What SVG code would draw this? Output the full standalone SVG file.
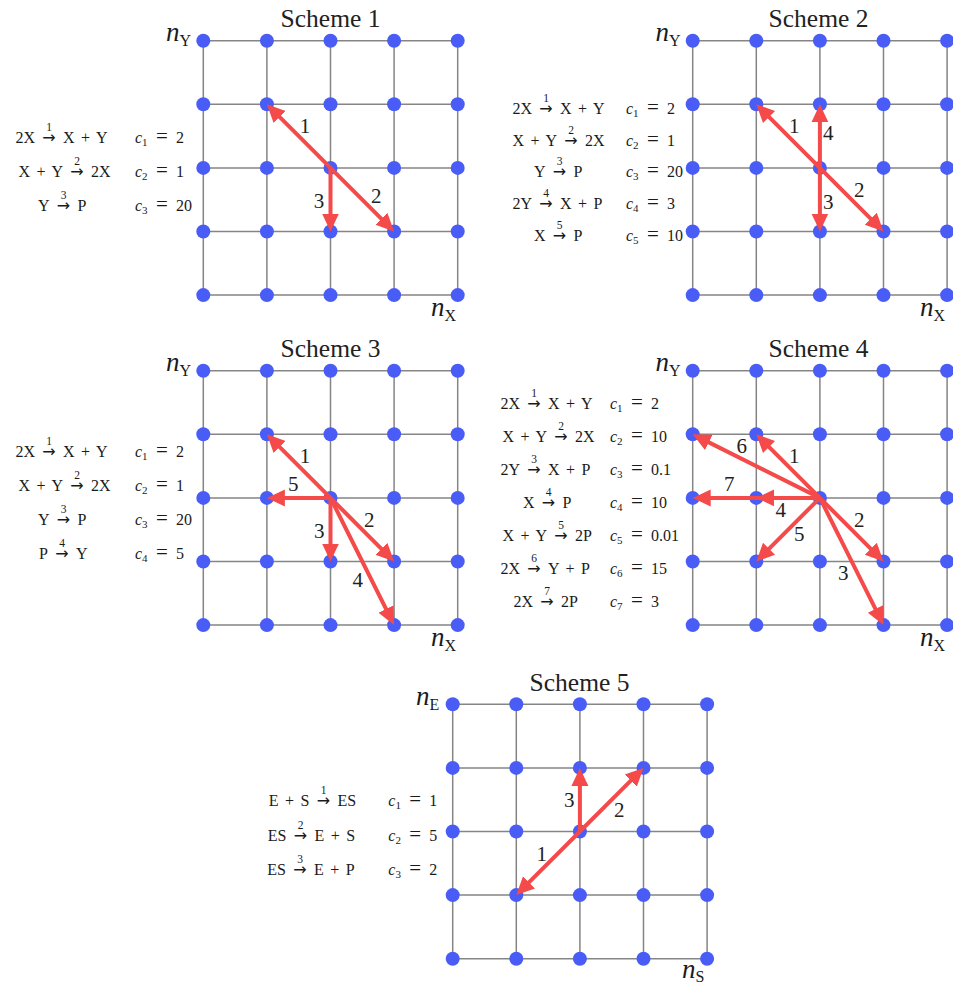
<svg xmlns="http://www.w3.org/2000/svg" xmlns:xlink="http://www.w3.org/1999/xlink" width="953" height="984" viewBox="0 0 953 984">
<style>
.bg{fill:#fff}
.gl{stroke:#858585;stroke-width:1.5;fill:none}
.dot{fill:#4a5cf6}
.arr{stroke:#f44a4a;stroke-width:4;fill:none;marker-end:url(#ah)}
.lab{font-family:'Liberation Serif','DejaVu Serif','Noto Serif',serif;font-size:21px;fill:#222;text-anchor:middle}
.t{font-family:'Liberation Serif','DejaVu Serif','Noto Serif',serif;font-size:16px;fill:#1a1a1a;word-spacing:2.5px}
.e{text-anchor:end}
.m{text-anchor:middle}
.ar{font-family:'DejaVu Sans','Liberation Sans',sans-serif;font-size:16px;fill:#1a1a1a;text-anchor:middle}
.k{font-family:'Liberation Serif','DejaVu Serif','Noto Serif',serif;font-size:11.5px;fill:#1a1a1a;text-anchor:middle}
.it{font-style:italic}
.sb{font-size:11px}
.eq{font-size:21px}
.title{font-family:'Liberation Serif','DejaVu Serif','Noto Serif',serif;font-size:25.5px;fill:#222;text-anchor:middle}
.ax{font-family:'Liberation Serif','DejaVu Serif','Noto Serif',serif;font-size:27px;font-style:italic;fill:#1a1a1a}
.axs{font-size:16px;font-style:normal}
</style>
<defs>
<marker id="ah" markerUnits="userSpaceOnUse" markerWidth="20" markerHeight="20" viewBox="0 -10 20 20" refX="10" refY="0" orient="auto">
<path d="M0,-8.5 L18,0 L0,8.5 Z" fill="#f44a4a"/>
</marker>
<path id="grid" class="gl" d="M0,0H254.4M0,63.6H254.4M0,127.2H254.4M0,190.8H254.4M0,254.4H254.4M0,0V254.4M63.6,0V254.4M127.2,0V254.4M190.8,0V254.4M254.4,0V254.4"/>
</defs>
<rect class="bg" x="0" y="0" width="953" height="984"/>

<!-- ===== Scheme 1 ===== -->
<g id="scheme1" transform="translate(203.3,40.7)">
<use xlink:href="#grid" href="#grid"/>
<g id="s1-nodes">
<g id="s1-n00"><circle class="dot" cx="0" cy="0" r="7"/></g>
<g id="s1-n10"><circle class="dot" cx="63.6" cy="0" r="7"/></g>
<g id="s1-n20"><circle class="dot" cx="127.2" cy="0" r="7"/></g>
<g id="s1-n30"><circle class="dot" cx="190.8" cy="0" r="7"/></g>
<g id="s1-n40"><circle class="dot" cx="254.4" cy="0" r="7"/></g>
<g id="s1-n01"><circle class="dot" cx="0" cy="63.6" r="7"/></g>
<g id="s1-n11"><circle class="dot" cx="63.6" cy="63.6" r="7"/></g>
<g id="s1-n21"><circle class="dot" cx="127.2" cy="63.6" r="7"/></g>
<g id="s1-n31"><circle class="dot" cx="190.8" cy="63.6" r="7"/></g>
<g id="s1-n41"><circle class="dot" cx="254.4" cy="63.6" r="7"/></g>
<g id="s1-n02"><circle class="dot" cx="0" cy="127.2" r="7"/></g>
<g id="s1-n12"><circle class="dot" cx="63.6" cy="127.2" r="7"/></g>
<g id="s1-n22"><circle class="dot" cx="127.2" cy="127.2" r="7"/></g>
<g id="s1-n32"><circle class="dot" cx="190.8" cy="127.2" r="7"/></g>
<g id="s1-n42"><circle class="dot" cx="254.4" cy="127.2" r="7"/></g>
<g id="s1-n03"><circle class="dot" cx="0" cy="190.8" r="7"/></g>
<g id="s1-n13"><circle class="dot" cx="63.6" cy="190.8" r="7"/></g>
<g id="s1-n23"><circle class="dot" cx="127.2" cy="190.8" r="7"/></g>
<g id="s1-n33"><circle class="dot" cx="190.8" cy="190.8" r="7"/></g>
<g id="s1-n43"><circle class="dot" cx="254.4" cy="190.8" r="7"/></g>
<g id="s1-n04"><circle class="dot" cx="0" cy="254.4" r="7"/></g>
<g id="s1-n14"><circle class="dot" cx="63.6" cy="254.4" r="7"/></g>
<g id="s1-n24"><circle class="dot" cx="127.2" cy="254.4" r="7"/></g>
<g id="s1-n34"><circle class="dot" cx="190.8" cy="254.4" r="7"/></g>
<g id="s1-n44"><circle class="dot" cx="254.4" cy="254.4" r="7"/></g>
</g>
</g>
<g id="s1-text">
<text class="title" x="330.5" y="26.7">Scheme 1</text>
<text class="ax" x="166" y="40.5">n<tspan class="axs" dy="5">Y</tspan></text>
<text class="ax" x="431" y="315.5">n<tspan class="axs" dy="5">X</tspan></text>
<text class="t e" x="35" y="142.5">2X</text><text class="ar" x="49" y="142.5">→</text><text class="k" x="49" y="130.5">1</text><text class="t" x="63" y="142.5">X + Y</text>
<text class="t e" x="63" y="176.5">X + Y</text><text class="ar" x="77" y="176.5">→</text><text class="k" x="77" y="164.5">2</text><text class="t" x="91" y="176.5">2X</text>
<text class="t e" x="49.5" y="210.5">Y</text><text class="ar" x="63.5" y="210.5">→</text><text class="k" x="63.5" y="198.5">3</text><text class="t" x="77.5" y="210.5">P</text>
<text class="t" x="135" y="142.5"><tspan class="it">c</tspan><tspan class="sb" dy="3">1</tspan><tspan class="eq" x="156" dy="-3">=</tspan><tspan x="176">2</tspan></text>
<text class="t" x="135" y="176.5"><tspan class="it">c</tspan><tspan class="sb" dy="3">2</tspan><tspan class="eq" x="156" dy="-3">=</tspan><tspan x="176">1</tspan></text>
<text class="t" x="135" y="210.5"><tspan class="it">c</tspan><tspan class="sb" dy="3">3</tspan><tspan class="eq" x="156" dy="-3">=</tspan><tspan x="176">20</tspan></text>
</g>

<!-- ===== Scheme 2 ===== -->
<g id="scheme2" transform="translate(692.7,40.7)">
<use xlink:href="#grid" href="#grid"/>
<g id="s2-nodes">
<g id="s2-n00"><circle class="dot" cx="0" cy="0" r="7"/></g>
<g id="s2-n10"><circle class="dot" cx="63.6" cy="0" r="7"/></g>
<g id="s2-n20"><circle class="dot" cx="127.2" cy="0" r="7"/></g>
<g id="s2-n30"><circle class="dot" cx="190.8" cy="0" r="7"/></g>
<g id="s2-n40"><circle class="dot" cx="254.4" cy="0" r="7"/></g>
<g id="s2-n01"><circle class="dot" cx="0" cy="63.6" r="7"/></g>
<g id="s2-n11"><circle class="dot" cx="63.6" cy="63.6" r="7"/></g>
<g id="s2-n21"><circle class="dot" cx="127.2" cy="63.6" r="7"/></g>
<g id="s2-n31"><circle class="dot" cx="190.8" cy="63.6" r="7"/></g>
<g id="s2-n41"><circle class="dot" cx="254.4" cy="63.6" r="7"/></g>
<g id="s2-n02"><circle class="dot" cx="0" cy="127.2" r="7"/></g>
<g id="s2-n12"><circle class="dot" cx="63.6" cy="127.2" r="7"/></g>
<g id="s2-n22"><circle class="dot" cx="127.2" cy="127.2" r="7"/></g>
<g id="s2-n32"><circle class="dot" cx="190.8" cy="127.2" r="7"/></g>
<g id="s2-n42"><circle class="dot" cx="254.4" cy="127.2" r="7"/></g>
<g id="s2-n03"><circle class="dot" cx="0" cy="190.8" r="7"/></g>
<g id="s2-n13"><circle class="dot" cx="63.6" cy="190.8" r="7"/></g>
<g id="s2-n23"><circle class="dot" cx="127.2" cy="190.8" r="7"/></g>
<g id="s2-n33"><circle class="dot" cx="190.8" cy="190.8" r="7"/></g>
<g id="s2-n43"><circle class="dot" cx="254.4" cy="190.8" r="7"/></g>
<g id="s2-n04"><circle class="dot" cx="0" cy="254.4" r="7"/></g>
<g id="s2-n14"><circle class="dot" cx="63.6" cy="254.4" r="7"/></g>
<g id="s2-n24"><circle class="dot" cx="127.2" cy="254.4" r="7"/></g>
<g id="s2-n34"><circle class="dot" cx="190.8" cy="254.4" r="7"/></g>
<g id="s2-n44"><circle class="dot" cx="254.4" cy="254.4" r="7"/></g>
</g>
</g>
<g id="s2-text">
<text class="title" x="818.5" y="26.7">Scheme 2</text>
<text class="ax" x="655.5" y="40.5">n<tspan class="axs" dy="5">Y</tspan></text>
<text class="ax" x="920" y="315.5">n<tspan class="axs" dy="5">X</tspan></text>
<text class="t e" x="532" y="113.8">2X</text><text class="ar" x="546" y="113.8">→</text><text class="k" x="546" y="101.8">1</text><text class="t" x="560" y="113.8">X + Y</text>
<text class="t e" x="557" y="145.5">X + Y</text><text class="ar" x="571" y="145.5">→</text><text class="k" x="571" y="133.5">2</text><text class="t" x="585" y="145.5">2X</text>
<text class="t e" x="545.5" y="177.2">Y</text><text class="ar" x="559.5" y="177.2">→</text><text class="k" x="559.5" y="165.2">3</text><text class="t" x="573.5" y="177.2">P</text>
<text class="t e" x="532" y="208.8">2Y</text><text class="ar" x="546" y="208.8">→</text><text class="k" x="546" y="196.8">4</text><text class="t" x="560" y="208.8">X + P</text>
<text class="t e" x="545.5" y="240.5">X</text><text class="ar" x="559.5" y="240.5">→</text><text class="k" x="559.5" y="228.5">5</text><text class="t" x="573.5" y="240.5">P</text>
<text class="t" x="626" y="113.8"><tspan class="it">c</tspan><tspan class="sb" dy="3">1</tspan><tspan class="eq" x="647" dy="-3">=</tspan><tspan x="667">2</tspan></text>
<text class="t" x="626" y="145.5"><tspan class="it">c</tspan><tspan class="sb" dy="3">2</tspan><tspan class="eq" x="647" dy="-3">=</tspan><tspan x="667">1</tspan></text>
<text class="t" x="626" y="177.2"><tspan class="it">c</tspan><tspan class="sb" dy="3">3</tspan><tspan class="eq" x="647" dy="-3">=</tspan><tspan x="667">20</tspan></text>
<text class="t" x="626" y="208.8"><tspan class="it">c</tspan><tspan class="sb" dy="3">4</tspan><tspan class="eq" x="647" dy="-3">=</tspan><tspan x="667">3</tspan></text>
<text class="t" x="626" y="240.5"><tspan class="it">c</tspan><tspan class="sb" dy="3">5</tspan><tspan class="eq" x="647" dy="-3">=</tspan><tspan x="667">10</tspan></text>
</g>

<!-- ===== Scheme 3 ===== -->
<g id="scheme3" transform="translate(203.3,370.7)">
<use xlink:href="#grid" href="#grid"/>
<g id="s3-nodes">
<g id="s3-n00"><circle class="dot" cx="0" cy="0" r="7"/></g>
<g id="s3-n10"><circle class="dot" cx="63.6" cy="0" r="7"/></g>
<g id="s3-n20"><circle class="dot" cx="127.2" cy="0" r="7"/></g>
<g id="s3-n30"><circle class="dot" cx="190.8" cy="0" r="7"/></g>
<g id="s3-n40"><circle class="dot" cx="254.4" cy="0" r="7"/></g>
<g id="s3-n01"><circle class="dot" cx="0" cy="63.6" r="7"/></g>
<g id="s3-n11"><circle class="dot" cx="63.6" cy="63.6" r="7"/></g>
<g id="s3-n21"><circle class="dot" cx="127.2" cy="63.6" r="7"/></g>
<g id="s3-n31"><circle class="dot" cx="190.8" cy="63.6" r="7"/></g>
<g id="s3-n41"><circle class="dot" cx="254.4" cy="63.6" r="7"/></g>
<g id="s3-n02"><circle class="dot" cx="0" cy="127.2" r="7"/></g>
<g id="s3-n12"><circle class="dot" cx="63.6" cy="127.2" r="7"/></g>
<g id="s3-n22"><circle class="dot" cx="127.2" cy="127.2" r="7"/></g>
<g id="s3-n32"><circle class="dot" cx="190.8" cy="127.2" r="7"/></g>
<g id="s3-n42"><circle class="dot" cx="254.4" cy="127.2" r="7"/></g>
<g id="s3-n03"><circle class="dot" cx="0" cy="190.8" r="7"/></g>
<g id="s3-n13"><circle class="dot" cx="63.6" cy="190.8" r="7"/></g>
<g id="s3-n23"><circle class="dot" cx="127.2" cy="190.8" r="7"/></g>
<g id="s3-n33"><circle class="dot" cx="190.8" cy="190.8" r="7"/></g>
<g id="s3-n43"><circle class="dot" cx="254.4" cy="190.8" r="7"/></g>
<g id="s3-n04"><circle class="dot" cx="0" cy="254.4" r="7"/></g>
<g id="s3-n14"><circle class="dot" cx="63.6" cy="254.4" r="7"/></g>
<g id="s3-n24"><circle class="dot" cx="127.2" cy="254.4" r="7"/></g>
<g id="s3-n34"><circle class="dot" cx="190.8" cy="254.4" r="7"/></g>
<g id="s3-n44"><circle class="dot" cx="254.4" cy="254.4" r="7"/></g>
</g>
</g>
<g id="s3-text">
<text class="title" x="330.5" y="356.7">Scheme 3</text>
<text class="ax" x="166" y="370.5">n<tspan class="axs" dy="5">Y</tspan></text>
<text class="ax" x="431" y="645.5">n<tspan class="axs" dy="5">X</tspan></text>
<text class="t e" x="35" y="457.2">2X</text><text class="ar" x="49" y="457.2">→</text><text class="k" x="49" y="445.2">1</text><text class="t" x="63" y="457.2">X + Y</text>
<text class="t e" x="63" y="490.5">X + Y</text><text class="ar" x="77" y="490.5">→</text><text class="k" x="77" y="478.5">2</text><text class="t" x="91" y="490.5">2X</text>
<text class="t e" x="49.5" y="524.8">Y</text><text class="ar" x="63.5" y="524.8">→</text><text class="k" x="63.5" y="512.8">3</text><text class="t" x="77.5" y="524.8">P</text>
<text class="t e" x="48" y="558.8">P</text><text class="ar" x="62" y="558.8">→</text><text class="k" x="62" y="546.8">4</text><text class="t" x="76" y="558.8">Y</text>
<text class="t" x="135" y="457.2"><tspan class="it">c</tspan><tspan class="sb" dy="3">1</tspan><tspan class="eq" x="156" dy="-3">=</tspan><tspan x="176">2</tspan></text>
<text class="t" x="135" y="490.5"><tspan class="it">c</tspan><tspan class="sb" dy="3">2</tspan><tspan class="eq" x="156" dy="-3">=</tspan><tspan x="176">1</tspan></text>
<text class="t" x="135" y="524.8"><tspan class="it">c</tspan><tspan class="sb" dy="3">3</tspan><tspan class="eq" x="156" dy="-3">=</tspan><tspan x="176">20</tspan></text>
<text class="t" x="135" y="558.8"><tspan class="it">c</tspan><tspan class="sb" dy="3">4</tspan><tspan class="eq" x="156" dy="-3">=</tspan><tspan x="176">5</tspan></text>
</g>

<!-- ===== Scheme 4 ===== -->
<g id="scheme4" transform="translate(692.7,370.7)">
<use xlink:href="#grid" href="#grid"/>
<g id="s4-nodes">
<g id="s4-n00"><circle class="dot" cx="0" cy="0" r="7"/></g>
<g id="s4-n10"><circle class="dot" cx="63.6" cy="0" r="7"/></g>
<g id="s4-n20"><circle class="dot" cx="127.2" cy="0" r="7"/></g>
<g id="s4-n30"><circle class="dot" cx="190.8" cy="0" r="7"/></g>
<g id="s4-n40"><circle class="dot" cx="254.4" cy="0" r="7"/></g>
<g id="s4-n01"><circle class="dot" cx="0" cy="63.6" r="7"/></g>
<g id="s4-n11"><circle class="dot" cx="63.6" cy="63.6" r="7"/></g>
<g id="s4-n21"><circle class="dot" cx="127.2" cy="63.6" r="7"/></g>
<g id="s4-n31"><circle class="dot" cx="190.8" cy="63.6" r="7"/></g>
<g id="s4-n41"><circle class="dot" cx="254.4" cy="63.6" r="7"/></g>
<g id="s4-n02"><circle class="dot" cx="0" cy="127.2" r="7"/></g>
<g id="s4-n12"><circle class="dot" cx="63.6" cy="127.2" r="7"/></g>
<g id="s4-n22"><circle class="dot" cx="127.2" cy="127.2" r="7"/></g>
<g id="s4-n32"><circle class="dot" cx="190.8" cy="127.2" r="7"/></g>
<g id="s4-n42"><circle class="dot" cx="254.4" cy="127.2" r="7"/></g>
<g id="s4-n03"><circle class="dot" cx="0" cy="190.8" r="7"/></g>
<g id="s4-n13"><circle class="dot" cx="63.6" cy="190.8" r="7"/></g>
<g id="s4-n23"><circle class="dot" cx="127.2" cy="190.8" r="7"/></g>
<g id="s4-n33"><circle class="dot" cx="190.8" cy="190.8" r="7"/></g>
<g id="s4-n43"><circle class="dot" cx="254.4" cy="190.8" r="7"/></g>
<g id="s4-n04"><circle class="dot" cx="0" cy="254.4" r="7"/></g>
<g id="s4-n14"><circle class="dot" cx="63.6" cy="254.4" r="7"/></g>
<g id="s4-n24"><circle class="dot" cx="127.2" cy="254.4" r="7"/></g>
<g id="s4-n34"><circle class="dot" cx="190.8" cy="254.4" r="7"/></g>
<g id="s4-n44"><circle class="dot" cx="254.4" cy="254.4" r="7"/></g>
</g>
</g>
<g id="s4-text">
<text class="title" x="818.5" y="356.7">Scheme 4</text>
<text class="ax" x="655.5" y="370.5">n<tspan class="axs" dy="5">Y</tspan></text>
<text class="ax" x="920" y="645.5">n<tspan class="axs" dy="5">X</tspan></text>
<text class="t e" x="520" y="409">2X</text><text class="ar" x="534" y="409">→</text><text class="k" x="534" y="397">1</text><text class="t" x="548" y="409">X + Y</text>
<text class="t e" x="547" y="442">X + Y</text><text class="ar" x="561" y="442">→</text><text class="k" x="561" y="430">2</text><text class="t" x="575" y="442">2X</text>
<text class="t e" x="520" y="475">2Y</text><text class="ar" x="534" y="475">→</text><text class="k" x="534" y="463">3</text><text class="t" x="548" y="475">X + P</text>
<text class="t e" x="534.5" y="508">X</text><text class="ar" x="548.5" y="508">→</text><text class="k" x="548.5" y="496">4</text><text class="t" x="562.5" y="508">P</text>
<text class="t e" x="547" y="541">X + Y</text><text class="ar" x="561" y="541">→</text><text class="k" x="561" y="529">5</text><text class="t" x="575" y="541">2P</text>
<text class="t e" x="520" y="574">2X</text><text class="ar" x="534" y="574">→</text><text class="k" x="534" y="562">6</text><text class="t" x="548" y="574">Y + P</text>
<text class="t e" x="533" y="607">2X</text><text class="ar" x="547" y="607">→</text><text class="k" x="547" y="595">7</text><text class="t" x="561" y="607">2P</text>
<text class="t" x="610" y="409"><tspan class="it">c</tspan><tspan class="sb" dy="3">1</tspan><tspan class="eq" x="631" dy="-3">=</tspan><tspan x="651">2</tspan></text>
<text class="t" x="610" y="442"><tspan class="it">c</tspan><tspan class="sb" dy="3">2</tspan><tspan class="eq" x="631" dy="-3">=</tspan><tspan x="651">10</tspan></text>
<text class="t" x="610" y="475"><tspan class="it">c</tspan><tspan class="sb" dy="3">3</tspan><tspan class="eq" x="631" dy="-3">=</tspan><tspan x="651">0.1</tspan></text>
<text class="t" x="610" y="508"><tspan class="it">c</tspan><tspan class="sb" dy="3">4</tspan><tspan class="eq" x="631" dy="-3">=</tspan><tspan x="651">10</tspan></text>
<text class="t" x="610" y="541"><tspan class="it">c</tspan><tspan class="sb" dy="3">5</tspan><tspan class="eq" x="631" dy="-3">=</tspan><tspan x="651">0.01</tspan></text>
<text class="t" x="610" y="574"><tspan class="it">c</tspan><tspan class="sb" dy="3">6</tspan><tspan class="eq" x="631" dy="-3">=</tspan><tspan x="651">15</tspan></text>
<text class="t" x="610" y="607"><tspan class="it">c</tspan><tspan class="sb" dy="3">7</tspan><tspan class="eq" x="631" dy="-3">=</tspan><tspan x="651">3</tspan></text>
</g>

<!-- ===== Scheme 5 ===== -->
<g id="scheme5" transform="translate(452.7,704.3)">
<use xlink:href="#grid" href="#grid"/>
<g id="s5-nodes">
<g id="s5-n00"><circle class="dot" cx="0" cy="0" r="7"/></g>
<g id="s5-n10"><circle class="dot" cx="63.6" cy="0" r="7"/></g>
<g id="s5-n20"><circle class="dot" cx="127.2" cy="0" r="7"/></g>
<g id="s5-n30"><circle class="dot" cx="190.8" cy="0" r="7"/></g>
<g id="s5-n40"><circle class="dot" cx="254.4" cy="0" r="7"/></g>
<g id="s5-n01"><circle class="dot" cx="0" cy="63.6" r="7"/></g>
<g id="s5-n11"><circle class="dot" cx="63.6" cy="63.6" r="7"/></g>
<g id="s5-n21"><circle class="dot" cx="127.2" cy="63.6" r="7"/></g>
<g id="s5-n31"><circle class="dot" cx="190.8" cy="63.6" r="7"/></g>
<g id="s5-n41"><circle class="dot" cx="254.4" cy="63.6" r="7"/></g>
<g id="s5-n02"><circle class="dot" cx="0" cy="127.2" r="7"/></g>
<g id="s5-n12"><circle class="dot" cx="63.6" cy="127.2" r="7"/></g>
<g id="s5-n22"><circle class="dot" cx="127.2" cy="127.2" r="7"/></g>
<g id="s5-n32"><circle class="dot" cx="190.8" cy="127.2" r="7"/></g>
<g id="s5-n42"><circle class="dot" cx="254.4" cy="127.2" r="7"/></g>
<g id="s5-n03"><circle class="dot" cx="0" cy="190.8" r="7"/></g>
<g id="s5-n13"><circle class="dot" cx="63.6" cy="190.8" r="7"/></g>
<g id="s5-n23"><circle class="dot" cx="127.2" cy="190.8" r="7"/></g>
<g id="s5-n33"><circle class="dot" cx="190.8" cy="190.8" r="7"/></g>
<g id="s5-n43"><circle class="dot" cx="254.4" cy="190.8" r="7"/></g>
<g id="s5-n04"><circle class="dot" cx="0" cy="254.4" r="7"/></g>
<g id="s5-n14"><circle class="dot" cx="63.6" cy="254.4" r="7"/></g>
<g id="s5-n24"><circle class="dot" cx="127.2" cy="254.4" r="7"/></g>
<g id="s5-n34"><circle class="dot" cx="190.8" cy="254.4" r="7"/></g>
<g id="s5-n44"><circle class="dot" cx="254.4" cy="254.4" r="7"/></g>
</g>
</g>
<g id="s5-text">
<text class="title" x="579.5" y="691">Scheme 5</text>
<text class="ax" x="416" y="705">n<tspan class="axs" dy="4.5">E</tspan></text>
<text class="ax" x="682" y="977.5">n<tspan class="axs" dy="4">S</tspan></text>
<text class="t e" x="309.5" y="806">E + S</text><text class="ar" x="323.5" y="806">→</text><text class="k" x="323.5" y="794">1</text><text class="t" x="337.5" y="806">ES</text>
<text class="t e" x="286.5" y="840.5">ES</text><text class="ar" x="300.5" y="840.5">→</text><text class="k" x="300.5" y="828.5">2</text><text class="t" x="314.5" y="840.5">E + S</text>
<text class="t e" x="286" y="874.5">ES</text><text class="ar" x="300" y="874.5">→</text><text class="k" x="300" y="862.5">3</text><text class="t" x="314" y="874.5">E + P</text>
<text class="t" x="388.3" y="806"><tspan class="it">c</tspan><tspan class="sb" dy="3">1</tspan><tspan class="eq" x="409.3" dy="-3">=</tspan><tspan x="429.3">1</tspan></text>
<text class="t" x="388.3" y="840.5"><tspan class="it">c</tspan><tspan class="sb" dy="3">2</tspan><tspan class="eq" x="409.3" dy="-3">=</tspan><tspan x="429.3">5</tspan></text>
<text class="t" x="388.3" y="874.5"><tspan class="it">c</tspan><tspan class="sb" dy="3">3</tspan><tspan class="eq" x="409.3" dy="-3">=</tspan><tspan x="429.3">2</tspan></text>
</g>

<!-- ===== Connectors ===== -->
<g id="connectors">
<g id="s1-edges" transform="translate(203.3,40.7)">
<line class="arr" x1="127.2" y1="127.2" x2="69.26" y2="69.26"/>
<line class="arr" x1="127.2" y1="127.2" x2="185.14" y2="185.14"/>
<line class="arr" x1="127.2" y1="127.2" x2="127.2" y2="182.8"/>
<text class="lab" x="101.7" y="92.8">1</text>
<text class="lab" x="173" y="162.8">2</text>
<text class="lab" x="115.7" y="167.8">3</text>
</g>
<g id="s2-edges" transform="translate(692.7,40.7)">
<line class="arr" x1="127.2" y1="127.2" x2="69.26" y2="69.26"/>
<line class="arr" x1="127.2" y1="127.2" x2="185.14" y2="185.14"/>
<line class="arr" x1="127.2" y1="127.2" x2="127.2" y2="182.8"/>
<line class="arr" x1="127.2" y1="127.2" x2="127.2" y2="71.6"/>
<text class="lab" x="101.6" y="92.8">1</text>
<text class="lab" x="166.6" y="156.1">2</text>
<text class="lab" x="135.6" y="168.5">3</text>
<text class="lab" x="135.6" y="99.5">4</text>
</g>
<g id="s3-edges" transform="translate(203.3,370.7)">
<line class="arr" x1="127.2" y1="127.2" x2="69.26" y2="69.26"/>
<line class="arr" x1="127.2" y1="127.2" x2="185.14" y2="185.14"/>
<line class="arr" x1="127.2" y1="127.2" x2="127.2" y2="182.8"/>
<line class="arr" x1="127.2" y1="127.2" x2="187.22" y2="247.24"/>
<line class="arr" x1="127.2" y1="127.2" x2="71.6" y2="127.2"/>
<text class="lab" x="101.7" y="92.8">1</text>
<text class="lab" x="166" y="156.1">2</text>
<text class="lab" x="116" y="167.8">3</text>
<text class="lab" x="154.4" y="216.1">4</text>
<text class="lab" x="90" y="120.8">5</text>
</g>
<g id="s4-edges" transform="translate(692.7,370.7)">
<line class="arr" x1="127.2" y1="127.2" x2="69.26" y2="69.26"/>
<line class="arr" x1="127.2" y1="127.2" x2="185.14" y2="185.14"/>
<line class="arr" x1="127.2" y1="127.2" x2="187.22" y2="247.24"/>
<line class="arr" x1="127.2" y1="127.2" x2="71.6" y2="127.2"/>
<line class="arr" x1="127.2" y1="127.2" x2="69.26" y2="185.14"/>
<line class="arr" x1="127.2" y1="127.2" x2="7.155" y2="67.18"/>
<line class="arr" x1="127.2" y1="127.2" x2="8" y2="127.2"/>
<text class="lab" x="101.6" y="92.8">1</text>
<text class="lab" x="166.6" y="156.1">2</text>
<text class="lab" x="150.6" y="209.5">3</text>
<text class="lab" x="88" y="146.8">4</text>
<text class="lab" x="106.6" y="170.8">5</text>
<text class="lab" x="49" y="82.8">6</text>
<text class="lab" x="36.6" y="120.1">7</text>
</g>
<g id="s5-edges" transform="translate(452.7,704.3)">
<line class="arr" x1="127.2" y1="127.2" x2="69.26" y2="185.14"/>
<line class="arr" x1="127.2" y1="127.2" x2="185.14" y2="69.26"/>
<line class="arr" x1="127.2" y1="127.2" x2="127.2" y2="71.6"/>
<text class="lab" x="89" y="156.5">1</text>
<text class="lab" x="166.6" y="112.5">2</text>
<text class="lab" x="116.6" y="102.5">3</text>
</g>
</g>
</svg>
